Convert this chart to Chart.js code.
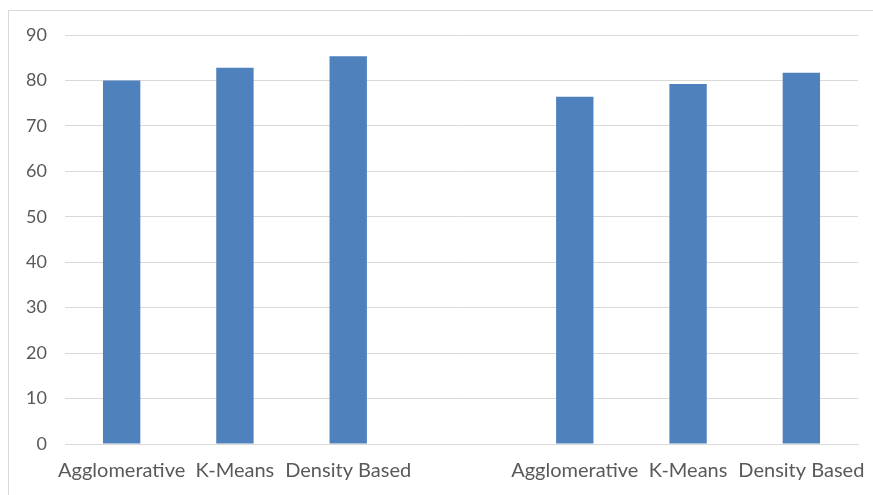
<!DOCTYPE html>
<html>
<head>
<meta charset="utf-8">
<script src="https://cdn.jsdelivr.net/npm/chart.js@4"></script>
<style>
  html, body { margin: 0; padding: 0; background: #ffffff; }
  #wrap { position: relative; width: 873px; height: 495px; overflow: hidden; }
  #frame { position: absolute; left: 8px; top: 10px; width: 900px; height: 520px;
           border: 1px solid #d9d9d9; box-sizing: border-box; }
  canvas { position: absolute; left: 0; top: 0; }
</style>
</head>
<body>
<div id="wrap">
  <div id="frame"></div>
  <canvas id="chart" width="873" height="495"></canvas>
</div>
<script>
// Clustering methods, two groups separated by an empty slot
const categories = ["Agglomerative", "K-Means", "Density Based", "", "Agglomerative", "K-Means", "Density Based"];
const scores = [80.0, 82.8, 85.3, null, 76.4, 79.2, 81.7];
const yTicks = [0, 10, 20, 30, 40, 50, 60, 70, 80, 90];

const textColor = "#595959";
const gridColor = "#d9d9d9";
const family = "Lato, 'Open Sans', sans-serif";

new Chart(document.getElementById("chart"), {
  type: "bar",
  data: {
    labels: categories,
    datasets: [{
      data: scores,
      backgroundColor: "#4f81bd",
      borderWidth: 0,
      categoryPercentage: 1.0,
      barPercentage: 0.33
    }]
  },
  options: {
    responsive: false,
    animation: false,
    layout: { padding: { left: 0, right: 15, top: 35, bottom: 0 } },
    plugins: { legend: { display: false }, tooltip: { enabled: false } },
    scales: {
      x: {
        grid: { display: false, drawTicks: false },
        border: { display: true, color: gridColor, width: 1 },
        ticks: { color: textColor, font: { family, size: 20 }, autoSkip: false, maxRotation: 0, padding: 15 },
        afterFit: s => { s.height = 51; s.paddingLeft = 0; s.paddingRight = 0; }
      },
      y: {
        min: 0, max: 90,
        afterBuildTicks: s => { s.ticks = yTicks.map(v => ({ value: v })); },
        grid: { color: gridColor, lineWidth: 1, drawTicks: false },
        border: { display: false },
        ticks: { color: textColor, font: { family, size: 18 }, padding: 18 },
        afterFit: s => { s.width = 65; s.paddingTop = 0; s.paddingBottom = 0; }
      }
    }
  }
});
</script>
</body>
</html>
